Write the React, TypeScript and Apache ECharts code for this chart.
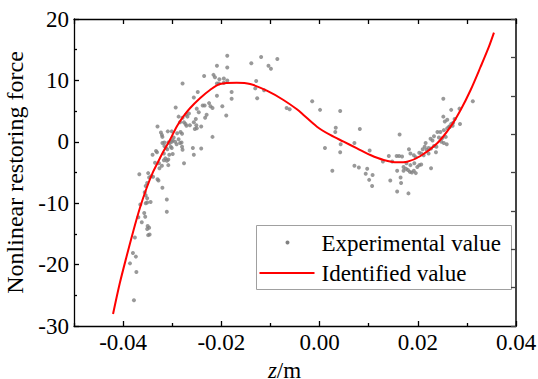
import React, { useEffect, useRef } from 'react';
import * as echarts from 'echarts';

const expZ = [
  -0.0188, -0.0119, -0.0086, -0.0139, -0.0104, -0.0099, -0.0209, -0.0188, -0.0235, -0.0216,
  -0.0213, -0.0204, -0.0195, -0.0279, -0.0209, -0.0205, -0.0195, -0.0188, -0.0129, -0.0131,
  -0.0113, -0.0248, -0.0179, -0.0209, -0.0179, -0.0127, -0.0256, -0.0225, -0.0222, -0.0218,
  -0.0238, -0.0234, -0.0198, -0.0293, -0.0250, -0.0246, -0.0272, -0.0230, -0.0233, -0.0266,
  -0.0269, -0.0252, -0.0190, -0.0015, -0.0067, -0.0061, 0.0001, -0.0287, -0.0279, -0.0284,
  -0.0276, -0.0273, -0.0271, -0.0264, -0.0256, -0.0251, -0.0250, -0.0254, -0.0241, -0.0330,
  -0.0323, -0.0321, -0.0320, -0.0309, -0.0301, -0.0290, -0.0283, -0.0280, -0.0297, -0.0299,
  -0.0294, -0.0291, -0.0287, -0.0284, -0.0308, -0.0305, -0.0303, -0.0301, -0.0320, -0.0316,
  -0.0313, -0.0218, -0.0280, -0.0258, -0.0241, -0.0340, -0.0333, -0.0317, -0.0299, -0.0256,
  -0.0314, -0.0308, -0.0316, -0.0301, -0.0281, -0.0279, -0.0331, -0.0310, -0.0306, -0.0317,
  -0.0311, -0.0335, -0.0327, -0.0321, -0.0326, -0.0308, -0.0276, -0.0367, -0.0349, -0.0347,
  -0.0351, -0.0354, -0.0343, -0.0339, -0.0330, -0.0328, -0.0320, -0.0356, -0.0354, -0.0351,
  -0.0311, -0.0365, -0.0354, -0.0351, -0.0344, -0.0311, -0.0357, -0.0355, -0.0369, -0.0362,
  -0.0350, -0.0347, -0.0351, -0.0349, -0.0346, -0.0376, -0.0380, -0.0374, -0.0386, -0.0373,
  -0.0378, 0.0042, 0.0033, 0.0032, 0.0082, 0.0163, 0.0043, 0.0071, 0.0011, 0.0042,
  0.0102, 0.0141, 0.0157, 0.0162, 0.0168, 0.0026, 0.0071, 0.0080, 0.0097, 0.0094,
  0.0101, 0.0107, 0.0108, 0.0129, 0.0148, 0.0144, 0.0158, 0.0165, 0.0166, 0.0158,
  0.0181, 0.0171, 0.0176, 0.0180, 0.0184, 0.0188, 0.0192, 0.0196, 0.0199, 0.0203,
  0.0207, 0.0171, 0.0177, 0.0185, 0.0193, 0.0182, 0.0185, 0.0192, 0.0196, 0.0203,
  0.0207, 0.0212, 0.0218, 0.0222, 0.0227, 0.0233, 0.0238, 0.0227, 0.0237, 0.0248,
  0.0253, 0.0259, 0.0250, 0.0257, 0.0233, 0.0240, 0.0246, 0.0253, 0.0260, 0.0264,
  0.0268, 0.0272, 0.0255, 0.0260, 0.0252, 0.0268, 0.0286, 0.0275, 0.0312, 0.0252,
  0.0285, 0.0265, 0.0271, 0.0230, 0.0216, 0.0214, 0.0210, 0.0222, 0.0226, 0.0243,
];
const expF = [
  14.0, 13.8, 13.5, 12.8, 12.4, 11.9, 12.4, 12.1, 10.7, 10.9,
  10.5, 10.2, 10.3, 9.5, 9.5, 9.5, 9.6, 10.0, 9.9, 8.7,
  8.4, 8.1, 8.1, 7.5, 7.0, 7.1, 7.2, 6.3, 5.8, 5.5,
  5.9, 5.9, 5.8, 5.6, 5.4, 4.8, 4.4, 4.4, 3.9, 4.6,
  4.1, 3.7, 4.3, 6.6, 5.5, 5.3, 5.2, 4.1, 3.9, 3.2,
  3.2, 2.9, 2.6, 2.7, 3.2, 2.7, 2.2, 2.1, 2.5, 2.5,
  1.5, 1.1, 0.8, 1.7, 1.7, 1.4, 1.6, 1.3, 0.7, 0.2,
  0.0, -0.4, 0.4, -0.2, -0.1, -0.2, -0.8, -1.0, -0.2, -0.7,
  -1.0, 0.8, -0.8, -1.0, -1.1, -2.1, -1.5, -1.9, -2.0, -2.1,
  -2.7, -2.9, -0.1, 0.0, -0.1, -1.3, -1.7, -1.2, -2.1, -3.0,
  -3.1, -3.4, -3.5, -3.9, -4.3, -3.8, -3.5, -5.3, -5.1, -5.8,
  -6.7, -7.2, -5.6, -5.7, -6.1, -6.3, -7.5, -8.2, -8.7, -9.2,
  -9.4, -10.2, -10.0, -9.9, -9.8, -11.4, -11.6, -12.2, -12.3, -13.1,
  -13.7, -14.0, -14.2, -15.2, -15.1, -15.6, -18.1, -18.7, -19.8, -21.2,
  -25.8, 5.0, 2.3, 1.6, 2.1, 1.2, -0.4, -0.2, -1.0, -1.7,
  -1.4, -2.3, -2.3, -2.3, -2.4, -4.7, -3.9, -4.2, -4.4, -5.2,
  -6.2, -7.2, -5.4, -3.2, -3.2, -6.3, -4.7, -5.8, -6.7, -8.1,
  -8.4, -4.1, -4.4, -4.6, -4.9, -5.0, -4.7, -5.1, -4.1, -3.8,
  -3.7, -4.7, -3.5, -3.8, -3.5, -1.2, -1.9, -2.2, -2.5, -1.8,
  -1.9, -2.2, -1.3, -1.9, -1.1, -0.7, -0.8, -4.3, -1.7, 0.0,
  -0.2, -0.4, 0.6, 0.8, 0.9, 1.6, 1.6, 1.9, 2.2, 2.5,
  2.9, 3.1, 3.3, 3.6, 4.1, 5.2, 2.9, 3.7, 6.6, 7.0,
  5.4, 2.4, 2.6, 0.2, -0.2, -0.8, -1.2, -1.0, 0.5, 0.7,
];

const fitZ = [
  -0.04205, -0.04068, -0.03931, -0.03796, -0.03660, -0.03523, -0.03388, -0.03251, -0.03184, -0.03047,
  -0.02910, -0.02776, -0.02639, -0.02435, -0.02231, -0.02027, -0.01686, -0.01414, -0.01074, -0.00735,
  -0.00461, -0.00327, -0.00053, 0.00218, 0.00490, 0.00763, 0.01035, 0.01306, 0.01580, 0.01784,
  0.02055, 0.02396, 0.02668, 0.02872, 0.03076, 0.03280, 0.03449, 0.03551,
];
const fitF = [
  -28.05, -23.05, -18.72, -14.64, -10.83, -7.57, -4.87, -2.69, -1.61, 0.29,
  2.46, 4.09, 5.46, 7.09, 8.44, 9.42, 9.63, 9.42, 8.32, 6.81,
  5.29, 4.37, 2.46, 1.11, 0.02, -1.06, -2.15, -2.96, -3.34, -3.24,
  -2.31, -0.24, 2.46, 5.18, 8.44, 12.23, 15.49, 17.77,
];

const xMajorTicks = [-0.04, -0.02, 0, 0.02, 0.04];
const xMinorTicks = [-0.05, -0.03, -0.01, 0.01, 0.03];
const seriesNames = ['Experimental value', 'Identified value'];

const FONT = 'Liberation Serif, Times New Roman, serif';

export default function App() {
  const ref = useRef<HTMLDivElement>(null);

  useEffect(() => {
    const chart = echarts.init(ref.current!, null, { renderer: 'svg' });
    const scatterData = expZ.map((z, i) => [z, expF[i]]);
    const lineData = fitZ.map((z, i) => [z, fitF[i]]);
    const axisLineStyle = { color: '#000', width: 1.3 };

    chart.setOption({
      animation: false,
      backgroundColor: '#fff',
      textStyle: { fontFamily: FONT },
      grid: { left: 74, right: 22, top: 19, bottom: 53, containLabel: false, outerBoundsMode: 'none' },
      xAxis: [
        {
          type: 'value',
          position: 'bottom',
          min: -0.05,
          max: 0.04,
          axisLine: { show: true, onZero: false, lineStyle: axisLineStyle },
          axisTick: { show: true, inside: true, length: 5, customValues: xMajorTicks, lineStyle: axisLineStyle },
          axisLabel: {
            customValues: xMajorTicks,
            margin: 5,
            color: '#000',
            fontSize: 23,
            fontFamily: FONT,
            formatter: (v: number) => v.toFixed(2),
          },
          splitLine: { show: false },
          name: '{i|z}/m',
          nameLocation: 'middle',
          nameGap: 28,
          nameTextStyle: {
            color: '#000',
            fontSize: 23,
            lineHeight: 23,
            fontFamily: FONT,
            padding: [0, 21, 0, 0],
            rich: { i: { color: '#000', fontSize: 23, lineHeight: 23, fontFamily: FONT, fontStyle: 'italic' } },
          },
        },
        {
          type: 'value',
          position: 'top',
          min: -0.05,
          max: 0.04,
          interval: 0.01,
          axisLine: { show: true, onZero: false, lineStyle: axisLineStyle },
          axisTick: { show: true, inside: true, length: 5, lineStyle: axisLineStyle },
          axisLabel: { show: false },
          splitLine: { show: false },
        },
        {
          type: 'value',
          position: 'bottom',
          min: -0.05,
          max: 0.04,
          axisLine: { show: false, onZero: false },
          axisTick: { show: true, inside: true, length: 3, customValues: xMinorTicks, lineStyle: axisLineStyle },
          axisLabel: { show: false },
          splitLine: { show: false },
        },
      ],
      yAxis: [
        {
          type: 'value',
          position: 'left',
          min: -30,
          max: 20,
          interval: 10,
          axisLine: { show: true, onZero: false, lineStyle: axisLineStyle },
          axisTick: { show: true, inside: true, length: 5, lineStyle: axisLineStyle },
          minorTick: { show: true, splitNumber: 2, length: 3, lineStyle: axisLineStyle },
          axisLabel: { margin: 5, color: '#000', fontSize: 23, fontFamily: FONT },
          splitLine: { show: false },
          name: 'Nonlinear restoring force',
          nameLocation: 'middle',
          nameGap: 42,
          nameTextStyle: { color: '#000', fontSize: 24, fontFamily: FONT },
        },
        {
          type: 'value',
          position: 'right',
          min: 0,
          max: 8,
          interval: 1,
          axisLine: { show: true, onZero: false, lineStyle: { color: '#444', width: 2 } },
          axisTick: { show: true, inside: true, length: 5, lineStyle: { color: '#444', width: 1.3 } },
          axisLabel: { show: false },
          splitLine: { show: false },
        },
      ],
      series: [
        {
          name: seriesNames[0],
          type: 'scatter',
          xAxisIndex: 0,
          yAxisIndex: 0,
          data: scatterData,
          symbol: 'circle',
          symbolSize: 4,
          itemStyle: { color: '#808080' },
          silent: true,
          z: 2,
        },
        {
          name: seriesNames[1],
          type: 'line',
          xAxisIndex: 0,
          yAxisIndex: 0,
          data: lineData,
          smooth: 0.3,
          showSymbol: false,
          lineStyle: { color: '#ff0000', width: 2 },
          silent: true,
          z: 3,
        },
      ],
      graphic: [
        {
          type: 'group',
          left: 256,
          top: 225,
          children: [
            { type: 'rect', shape: { x: 0, y: 0, width: 255, height: 64 }, style: { fill: '#fff', stroke: '#a0a0a0', lineWidth: 1 } },
            { type: 'circle', shape: { cx: 31, cy: 17, r: 2 }, style: { fill: '#808080' } },
            { type: 'line', shape: { x1: 3, y1: 47.5, x2: 58, y2: 47.5 }, style: { stroke: '#ff0000', lineWidth: 2 } },
            { type: 'text', x: 65, y: 18, style: { text: seriesNames[0], fill: '#000', fontSize: 23, fontFamily: FONT, verticalAlign: 'middle' } },
            { type: 'text', x: 65, y: 48, style: { text: seriesNames[1], fill: '#000', fontSize: 23, fontFamily: FONT, verticalAlign: 'middle' } },
          ],
        },
      ],
    });

    return () => chart.dispose();
  }, []);

  return <div ref={ref} style={{ position: 'fixed', left: 0, top: 0, width: 538, height: 379 }} />;
}
